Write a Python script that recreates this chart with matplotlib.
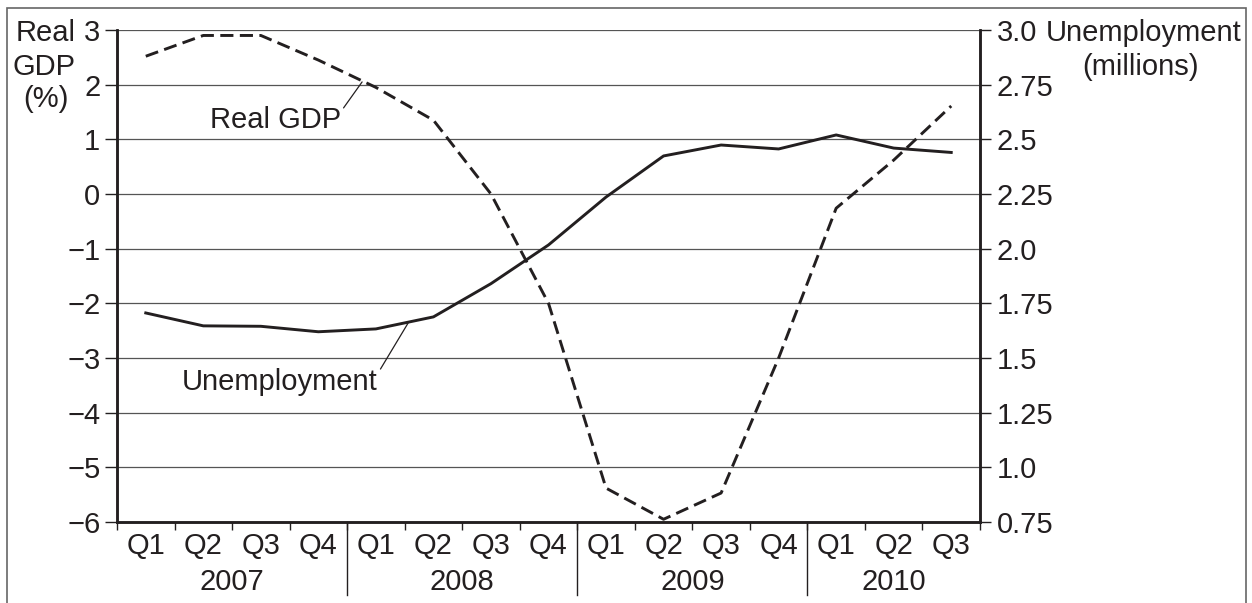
import matplotlib
matplotlib.use("Agg")
import matplotlib.pyplot as plt
from matplotlib.patches import Rectangle
import numpy as np

plt.rcParams['font.family'] = ['Liberation Sans', 'DejaVu Sans']

# quarterly data, 2007 Q1 .. 2010 Q3
quarters = ['Q1', 'Q2', 'Q3', 'Q4'] * 3 + ['Q1', 'Q2', 'Q3']
years = ['2007', '2008', '2009', '2010']
year_centres = [2, 6, 10, 13.5]
year_breaks = [4, 8, 12]
real_gdp = [2.52, 2.9, 2.9, 2.45, 1.95, 1.35, 0.0, -2.0,
            -5.38, -5.95, -5.47, -3.0, -0.26, 0.62, 1.61]
unemployment = [1.706, 1.647, 1.645, 1.62, 1.633, 1.688, 1.84, 2.017,
                2.236, 2.424, 2.474, 2.456, 2.52, 2.46, 2.44]
gdp_ticks = list(range(-6, 4))
unemp_ticks = [0.75, 1.0, 1.25, 1.5, 1.75, 2.0, 2.25, 2.5, 2.75, 3.0]
unemp_labels = ['0.75', '1.0', '1.25', '1.5', '1.75', '2.0', '2.25', '2.5', '2.75', '3.0']

x = np.arange(len(quarters)) + 0.5
fs = 21
dark = '#231f20'
W, H = 1252, 603

fig = plt.figure(figsize=(W / 100, H / 100), dpi=100)
ax1 = fig.add_axes([117 / W, 81 / H, 863 / W, 492 / H])
ax2 = ax1.twinx()

# grid
for v in gdp_ticks:
    ax1.axhline(v, color='#555555', lw=0.9, zorder=1)

ax1.plot(x, real_gdp, color=dark, lw=2.1, dashes=(4.5, 2.2), zorder=3)
ax2.plot(x, unemployment, color=dark, lw=2.1, zorder=3)

ax1.set_xlim(0, 15)
ax1.set_ylim(-6, 3)
ax2.set_ylim(0.75, 3.0)

ax1.set_yticks(gdp_ticks)
ax1.set_yticklabels([str(v).replace('-', '\u2212') for v in gdp_ticks], fontsize=fs)
ax2.set_yticks(unemp_ticks)
ax2.set_yticklabels(unemp_labels, fontsize=fs)

ax1.set_xticks(np.arange(0, 16))
ax1.set_xticklabels([])
ax1.set_xticks(x, minor=True)
ax1.set_xticklabels(quarters, minor=True, fontsize=fs)
ax1.tick_params(axis='x', which='major', length=6, width=1, color=dark)
ax1.tick_params(axis='x', which='minor', length=0, pad=7, labelcolor=dark)
ax1.tick_params(axis='y', length=9, width=1, pad=3, color=dark, labelcolor=dark)
ax2.tick_params(axis='y', length=8, width=1, pad=4, color=dark, labelcolor=dark)

for a in (ax1, ax2):
    a.spines['top'].set_visible(False)
    for s in ('left', 'right', 'bottom'):
        a.spines[s].set_linewidth(1.8)
        a.spines[s].set_color(dark)

# year separators and labels
trans = ax1.get_xaxis_transform()
for b in year_breaks:
    ax1.plot([b, b], [0, -0.148], transform=trans, color=dark, lw=1, clip_on=False)
for yc, yr in zip(year_centres, years):
    ax1.text(yc, -0.122, yr, transform=trans, ha='center', va='center',
             fontsize=fs, color=dark)

# series labels
ax1.annotate('Real GDP', xy=(4.26, 2.05), xytext=(2.75, 1.35), fontsize=fs,
             color=dark, ha='center', va='center',
             arrowprops=dict(arrowstyle='-', color=dark, lw=0.9,
                             shrinkA=0, shrinkB=0, relpos=(1.0, 0.8)))
ax1.annotate('Unemployment', xy=(5.06, -2.36), xytext=(2.83, -3.44), fontsize=fs,
             color=dark, ha='center', va='center',
             arrowprops=dict(arrowstyle='-', color=dark, lw=0.9,
                             shrinkA=0, shrinkB=0, relpos=(1.0, 0.8)))

# axis titles
for txt, px, py in [('Real', 46, 33), ('GDP', 44, 67), ('(%)', 46, 99),
                    ('Unemployment', 1144, 33), ('(millions)', 1141, 67)]:
    fig.text(px / W, 1 - py / H, txt, ha='center', va='center',
             fontsize=fs, color=dark)

# outer frame
fig.patches.append(Rectangle((7 / W, -0.02), 1239 / W, 1 - 8 / H + 0.02,
                             transform=fig.transFigure, fill=False,
                             edgecolor='#666666', lw=1.2))

fig.savefig('out.png', dpi=100)
